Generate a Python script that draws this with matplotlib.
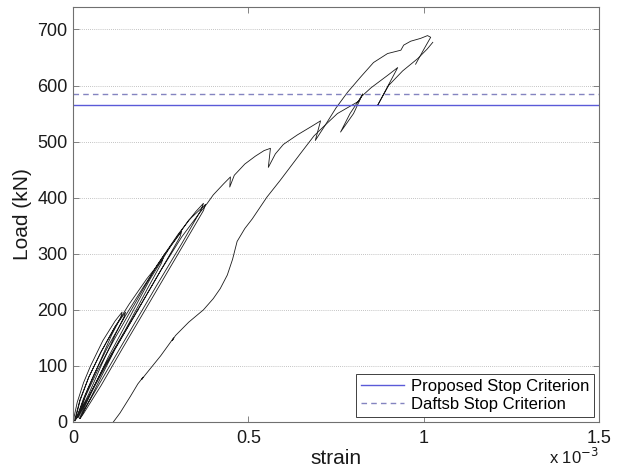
import numpy as np
import matplotlib
matplotlib.use('Agg')
import matplotlib.pyplot as plt
from matplotlib.ticker import FuncFormatter

plt.rcParams['font.family'] = ['Liberation Sans', 'DejaVu Sans']

# strain values are in units of 1e-3, load in kN
# cyclic loops near the origin + envelope + top unloading
upper_strain = [0, 0.012, 0.03, 0.05, 0.085, 0.12, 0.14,
                0.136, 0.11, 0.075, 0.04, 0.015, 0.004,
                0.02, 0.045, 0.08, 0.12, 0.15,
                0.146, 0.12, 0.08, 0.045, 0.015, 0.006,
                0.02, 0.045, 0.08, 0.12, 0.16, 0.21, 0.257,
                0.252, 0.21, 0.15, 0.09, 0.04, 0.01,
                0.03, 0.06, 0.10, 0.15, 0.20, 0.26, 0.31,
                0.305, 0.25, 0.18, 0.11, 0.05, 0.015,
                0.035, 0.07, 0.12, 0.18, 0.24, 0.30, 0.35, 0.372,
                0.365, 0.31, 0.24, 0.17, 0.10, 0.04, 0.018,
                0.05, 0.10, 0.16, 0.22, 0.28, 0.33, 0.378,
                0.372, 0.30, 0.22, 0.14, 0.08, 0.03, 0.02,
                0.06, 0.12, 0.19, 0.25, 0.31, 0.36, 0.383,
                0.40, 0.43, 0.449, 0.447,
                0.46, 0.49, 0.52, 0.545, 0.563, 0.557,
                0.577, 0.60, 0.64, 0.68, 0.706, 0.691,
                0.72, 0.75, 0.783, 0.82, 0.857, 0.897, 0.935, 0.943,
                0.963, 0.991, 1.011, 1.02, 1.0, 0.977]
upper_load = [0, 35, 70, 100, 145, 180, 196,
              186, 155, 105, 55, 15, 2,
              40, 80, 125, 170, 196,
              188, 155, 100, 50, 12, 2,
              38, 80, 125, 170, 210, 255, 292,
              283, 235, 165, 100, 40, 6,
              42, 85, 135, 190, 240, 298, 340,
              330, 270, 195, 120, 50, 8,
              45, 92, 150, 215, 280, 335, 375, 390,
              378, 318, 245, 170, 95, 30, 6,
              50, 115, 185, 255, 315, 360, 388,
              377, 300, 215, 130, 65, 15, 6,
              55, 130, 205, 270, 330, 372, 390,
              405, 425, 437, 419,
              440, 460, 474, 484, 488, 454,
              478, 495, 512, 527, 537, 502,
              530, 560, 588, 615, 641, 657, 663, 672,
              679, 684, 689, 686, 664, 638]

# reloading branch starting from the residual strain
lower_strain = [0.115, 0.134, 0.163, 0.185, 0.2, 0.196, 0.206, 0.25,
                0.287, 0.283, 0.292, 0.33, 0.372, 0.40, 0.42, 0.44,
                0.455, 0.468, 0.49, 0.511, 0.553, 0.591, 0.649,
                0.687, 0.72, 0.754, 0.79, 0.815, 0.826, 0.80, 0.763,
                0.79, 0.822, 0.85, 0.897, 0.926, 0.869, 0.90, 0.94,
                0.983, 1.01, 1.026]
lower_load = [0, 16, 45, 68, 80, 76, 84, 118,
              150, 145, 154, 178, 200, 220, 238, 262,
              290, 322, 345, 362, 401, 431, 479,
              510, 530, 550, 563, 572, 585, 550, 517,
              550, 580, 596, 618, 632, 565, 600, 626,
              648, 665, 677]

proposed_stop = 565
daftsb_stop = 585
x_ticks = [0, 0.5, 1, 1.5]
y_ticks = [0, 100, 200, 300, 400, 500, 600, 700]

fig = plt.figure(figsize=(6.23, 4.72), dpi=100)
ax = fig.add_axes([73/623, 1-422/472, (599-73)/623, (422-7)/472])

for yy in y_ticks[1:]:
    ax.axhline(yy, color='#b0b0b0', linestyle=(0, (1, 1.5)), linewidth=0.6, zorder=0)

ax.plot(np.array(upper_strain)*1e-3, upper_load, color='#1a1a1a', linewidth=0.6)
ax.plot(np.array(lower_strain)*1e-3, lower_load, color='#1a1a1a', linewidth=0.6)

l1 = ax.axhline(proposed_stop, color='#5a5ad8', linewidth=1.0, label='Proposed Stop Criterion')
l2 = ax.axhline(daftsb_stop, color='#8484c0', linewidth=1.0, linestyle=(0, (4, 3)),
                label='Daftsb Stop Criterion')

ax.set_xlim(0, 1.5e-3)
ax.set_ylim(0, 740)
ax.set_xticks(np.array(x_ticks)*1e-3)
ax.xaxis.set_major_formatter(FuncFormatter(lambda v, p: '%g' % round(v*1e3, 3)))
ax.set_yticks(y_ticks)

for sp in ax.spines.values():
    sp.set_color('#707070')
    sp.set_linewidth(0.8)
ax.tick_params(direction='in', length=4, width=0.6, color='#707070',
               top=True, right=True, labelsize=13, labelcolor='#1a1a1a')
ax.tick_params(axis='x', pad=6)
ax.tick_params(axis='y', pad=4)

ax.set_xlabel('strain', fontsize=15, color='#1a1a1a', labelpad=1)
ax.set_ylabel('Load (kN)', fontsize=15, color='#1a1a1a', labelpad=4)
fig.text(0.882, 0.016, r'x 10$^{-3}$', fontsize=12, color='#1a1a1a')

leg = ax.legend(handles=[l1, l2], loc='lower right', fontsize=12, fancybox=False,
                framealpha=1, edgecolor='#404040', handlelength=2.6,
                borderpad=0.3, labelspacing=0.2, handletextpad=0.4,
                borderaxespad=0.3)
leg.get_frame().set_linewidth(0.7)

fig.savefig('out.png', dpi=100)
